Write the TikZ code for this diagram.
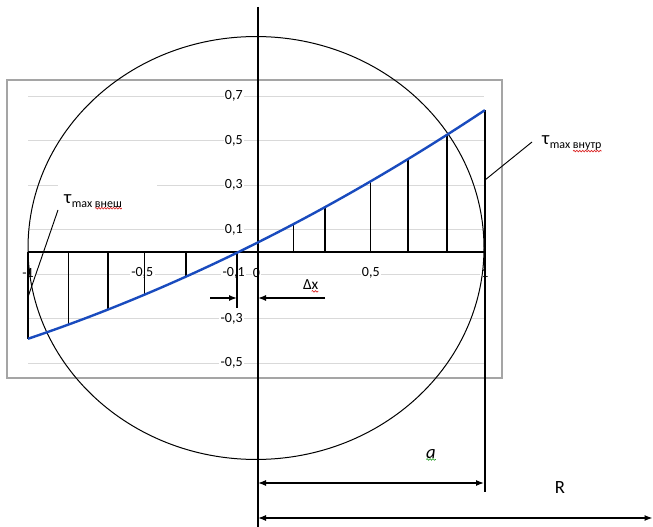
\documentclass[tikz,border=0pt]{standalone}
\usepackage{fontspec}
\setmainfont{Carlito}
\usetikzlibrary{arrows.meta,decorations.pathmorphing}
\definecolor{curveblue}{RGB}{25,75,190}
\definecolor{gridgray}{RGB}{217,217,217}
\definecolor{framegray}{RGB}{165,165,165}
\definecolor{spellred}{RGB}{220,40,40}
\definecolor{spellgreen}{RGB}{40,160,40}
\newcommand\mytaufont{\fontsize{14}{16}\selectfont}
\newcommand\mysubfont{\fontsize{9}{10}\selectfont}
\newcommand\myticfont{\fontsize{10.5}{12}\selectfont}
\begin{document}
\begin{tikzpicture}[x=0.75pt,y=-0.75pt,
 every node/.style={inner sep=0pt, outer sep=0pt},
 ticklab/.style={font=\myticfont, fill=white, inner xsep=1pt, inner ysep=0.5pt},
 gridline/.style={draw=gridgray, line width=0.75pt},
 ordthin/.style={line width=0.75pt},
 ordthick/.style={line width=1.2pt},
 arr/.style={line width=1pt, -{Latex[length=6pt,width=4.5pt]}},
 dimarrow/.style={line width=0.9pt, {Latex[length=6pt,width=4.5pt]}-{Latex[length=6pt,width=4.5pt]}},
 squiggle/.style={decorate, decoration={snake, amplitude=0.6pt, segment length=2.2pt}, line width=0.5pt},
 leader/.style={line width=0.7pt},
]
\useasboundingbox (0,0) rectangle (653,527);
\fill[white] (0,0) rectangle (653,527);

% chart frame
\draw[framegray, line width=1.6pt] (7,80) rectangle (502,378);

% grid lines
\foreach \v in {0.7,0.5,0.3,0.1,-0.1,-0.3,-0.5}
  \draw[gridline] (28,{252-222.5*\v}) -- (484,{252-222.5*\v});
\fill[white] (58,178) rectangle (157,200);

% tick labels
\foreach \v/\t in {0.7/{0,7},0.5/{0,5},0.3/{0,3},0.1/{0,1},-0.3/{-0,3},-0.5/{-0,5}}
  \node[ticklab, anchor=east] at (244,{252-222.5*\v}) {\t};
\foreach \u/\t in {-1/{-1},-0.5/{-0,5},-0.1/{-0,1},0/{0},0.5/{0,5},1/{1}}
  \node[ticklab] at ({256.5+228.5*\u},273) {\t};

% circle
\draw[line width=0.75pt] (256,248) ellipse [x radius=171pt, y radius=158.6pt];

% ordinates
\foreach \px/\st in {28/ordthick,68/ordthin,108/ordthick,144/ordthin,186/ordthick,293/ordthin,325/ordthick,370/ordthin,408/ordthick,447/ordthick}{
  \pgfmathsetmacro\uu{(\px-256.5)/228.5}
  \pgfmathsetmacro\py{252-222.5*(0.084*(\uu)^2+0.514*(\uu)+0.04)}
  \draw[\st] (\px,252) -- (\px,\py);
}
\pgfmathsetmacro\pyend{252-222.5*(0.084+0.514+0.04)}
\coordinate (ordtop) at (485,\pyend);
\coordinate (ordbot) at (485,492);
\draw[ordthick] (ordtop) -- (ordbot);

% x axis and y axis
\draw[line width=1.2pt] (28,252) -- (485,252);
\coordinate (yaxtop) at (258,7);
\coordinate (yaxbot) at (258,527);
\draw[line width=1.5pt] (yaxtop) -- (yaxbot);

% line at -0.1
\coordinate (zt) at (237,252);
\coordinate (zb) at (237,308);
\draw[line width=1.2pt] (zt) -- (zb);

% blue curve
\draw[curveblue, line width=1.8pt] plot[domain=-1:1, samples=60, smooth]
  ({256.5+228.5*\x},{252-222.5*(0.084*(\x)^2+0.514*(\x)+0.04)});

% delta x arrows
\coordinate (dxa1) at (210,298);
\coordinate (dxa2) at (237,298);
\coordinate (dxb1) at (325,298);
\coordinate (dxb2) at (258,298);
\draw[arr] (dxa1) -- (dxa2);
\draw[arr] (dxb1) -- (dxb2);
\node[anchor=base west, font=\fontsize{11.5}{13}\selectfont] (dlt) at (303,290) {Δ};
\node[anchor=base west, font=\fontsize{11.5}{13}\selectfont] (dxx) at (dlt.base east) {x};
\draw[spellred, squiggle] ([yshift=-1pt]dxx.south west) -- ([yshift=-1pt]dxx.south east);

% right label
\node[anchor=base west, font=\mytaufont] (tauR) at (542,145) {τ};
\node[anchor=base west, font=\mysubfont] (maxR) at ([xshift=0.5pt,yshift=-2.5pt]tauR.base east) {max};
\node[anchor=base west, font=\mysubfont] (vnR) at ([xshift=2pt]maxR.base east) {внутр};
\draw[spellred, squiggle] ([yshift=-0.6pt]vnR.south west) -- ([yshift=-0.6pt]vnR.south east);
\coordinate (pR1) at (485,180);
\coordinate (pR2) at (532,142);
\draw[leader] (pR1) -- (pR2);

% left label
\node[anchor=base west, font=\mytaufont] (tauL) at (64,204) {τ};
\node[anchor=base west, font=\mysubfont] (maxL) at ([xshift=0.5pt,yshift=-2.5pt]tauL.base east) {max};
\node[anchor=base west, font=\mysubfont] (vnL) at ([xshift=2pt]maxL.base east) {внеш};
\draw[spellred, squiggle] ([yshift=-0.6pt]vnL.south west) -- ([yshift=-0.6pt]vnL.south east);
\coordinate (pL1) at (58,210);
\coordinate (pL2) at (28,297);
\draw[leader] (pL1) -- (pL2);

% dimensions
\coordinate (da1) at (258,483);
\coordinate (da2) at (484,483);
\coordinate (dr1) at (258,518);
\coordinate (dr2) at (652.5,518);
\draw[dimarrow] (da1) -- (da2);
\draw[dimarrow] (dr1) -- (dr2);
\node[anchor=base, font=\fontsize{14}{16}\selectfont\itshape] (alab) at (431,458) {a};
\draw[spellgreen, squiggle] ([yshift=-1pt]alab.south west) -- ([yshift=-1pt]alab.south east);
\node[anchor=base, font=\fontsize{14}{16}\selectfont] (rlab) at (560,493) {R};
\end{tikzpicture}
\end{document}
